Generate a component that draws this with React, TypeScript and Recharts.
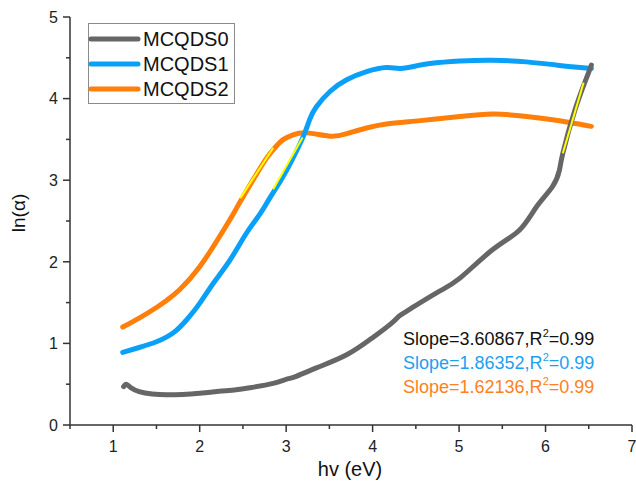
import React from "react";
import { LineChart, Line, XAxis, YAxis, Customized } from "recharts";

// Absorption edge curves: ln(alpha) versus photon energy hv (eV)
const mcqds0X = [1.12, 1.15, 1.2, 1.3, 1.45, 1.62, 1.8, 2.0, 2.2, 2.4, 2.6, 2.85, 3.0, 3.1, 3.35, 3.7, 4.0, 4.2, 4.3, 4.4, 4.74, 5.01, 5.39, 5.7, 5.9, 6.08, 6.16, 6.2, 6.34, 6.48, 6.53];
const mcqds0Y = [0.47, 0.5, 0.46, 0.41, 0.38, 0.37, 0.375, 0.39, 0.41, 0.43, 0.46, 0.51, 0.56, 0.59, 0.7, 0.86, 1.07, 1.23, 1.33, 1.4, 1.62, 1.8, 2.15, 2.39, 2.68, 2.92, 3.12, 3.33, 3.86, 4.27, 4.41];

const mcqds1X = [1.11, 1.3, 1.5, 1.62, 1.72, 1.85, 2.0, 2.16, 2.35, 2.54, 2.7, 2.81, 2.94, 3.06, 3.2, 3.27, 3.35, 3.51, 3.7, 3.93, 4.16, 4.32, 4.5, 4.66, 5.01, 5.39, 5.78, 6.14, 6.53];
const mcqds1Y = [0.89, 0.95, 1.02, 1.08, 1.15, 1.29, 1.49, 1.74, 2.02, 2.35, 2.59, 2.78, 3.0, 3.23, 3.54, 3.74, 3.9, 4.09, 4.23, 4.33, 4.38, 4.37, 4.4, 4.43, 4.46, 4.47, 4.45, 4.41, 4.37];

const mcqds2X = [1.11, 1.3, 1.5, 1.62, 1.77, 2.0, 2.23, 2.39, 2.47, 2.66, 2.78, 2.88, 2.97, 3.08, 3.24, 3.51, 3.7, 3.93, 4.16, 4.55, 5.01, 5.39, 5.7, 6.08, 6.53];
const mcqds2Y = [1.2, 1.31, 1.44, 1.53, 1.66, 1.94, 2.31, 2.59, 2.74, 3.08, 3.28, 3.41, 3.5, 3.555, 3.58, 3.54, 3.57, 3.64, 3.69, 3.73, 3.78, 3.81, 3.79, 3.74, 3.66];

// Linear fits on each edge: [xStart, xEnd], yStart, slope
const fitRanges = [
  [6.2, 6.44],
  [2.85, 3.19],
  [2.47, 2.85],
];
const fitStartY = [3.33, 2.89, 2.78];
const fitSlopes = [3.60867, 1.86352, 1.62136];
const fitR2 = [0.99, 0.99, 0.99];

const seriesNames = ["MCQDS0", "MCQDS1", "MCQDS2"];
const seriesColors = ["#666666", "#0aa0f8", "#ff7f0a"];
const labelColors = ["#111111", "#1ea0f0", "#ff7f24"];

const xTicks = [0.5, 1, 1.5, 2, 2.5, 3, 3.5, 4, 4.5, 5, 5.5, 6, 6.5, 7];
const yTicks = [0, 0.5, 1, 1.5, 2, 2.5, 3, 3.5, 4, 4.5, 5];

const zip = (xs: number[], ys: number[]) => xs.map((x, i) => ({ x, y: ys[i] }));
const curves = [zip(mcqds0X, mcqds0Y), zip(mcqds1X, mcqds1Y), zip(mcqds2X, mcqds2Y)];
const fits = fitRanges.map(([a, b], i) => [
  { x: a, y: fitStartY[i] },
  { x: b, y: fitStartY[i] + (b - a) * fitSlopes[i] },
]);

const FONT = "'Liberation Sans', Arial, sans-serif";
const AXIS = "#333333";

const XTick = (props: any) => {
  const { x, y, payload } = props;
  const v = payload.value;
  const major = Number.isInteger(v);
  return (
    <g>
      <line x1={x} x2={x} y1={y} y2={y + (major ? 7 : 4)} stroke={AXIS} strokeWidth={1.5} />
      {major && (
        <text x={x} y={y + 27} textAnchor="middle" fontSize={16} fill="#222" fontFamily={FONT}>
          {v}
        </text>
      )}
    </g>
  );
};

const YTick = (props: any) => {
  const { x, y, payload } = props;
  const v = payload.value;
  const major = Number.isInteger(v);
  return (
    <g>
      <line x1={x - (major ? 7 : 4)} x2={x} y1={y} y2={y} stroke={AXIS} strokeWidth={1.5} />
      {major && (
        <text x={x - 12} y={y} dy="0.36em" textAnchor="end" fontSize={16} fill="#222" fontFamily={FONT}>
          {v}
        </text>
      )}
    </g>
  );
};

const Decorations = () => (
  <g fontFamily={FONT}>
    {/* legend box */}
    <rect x={88.5} y={23.5} width={146} height={80} fill="#fff" stroke="#8a8a8a" strokeWidth={1} />
    {seriesNames.map((name, i) => (
      <g key={name}>
        <line x1={91} x2={138} y1={39 + i * 25} y2={39 + i * 25} stroke={seriesColors[i]} strokeWidth={5} strokeLinecap="round" />
        <text x={143} y={39 + i * 25} dy="0.36em" fontSize={20} fill="#111">
          {name}
        </text>
      </g>
    ))}
    {/* fit annotations */}
    {fitSlopes.map((s, i) => (
      <text key={i} x={403} y={345 + i * 24} fontSize={18} fill={labelColors[i]}>
        {`Slope=${s},R`}
        <tspan fontSize={11} dy={-8}>2</tspan>
        <tspan dy={8}>{`=${fitR2[i].toFixed(2)}`}</tspan>
      </text>
    ))}
    {/* axis titles */}
    <text x={18} y={213} transform="rotate(-90 18 213)" textAnchor="middle" dy="0.36em" fontSize={19} fill="#111">
      ln(α)
    </text>
    <text x={350} y={476} textAnchor="middle" fontSize={20} fill="#111">
      hv (eV)
    </text>
  </g>
);

export default function App() {
  return (
    <div style={{ position: "absolute", left: 0, top: 0, width: 636, height: 488, background: "#fff" }}>
      <LineChart width={636} height={488} margin={{ top: 17, right: 4, bottom: 0, left: 0 }}>
        <XAxis
          dataKey="x"
          type="number"
          domain={[0.5, 7]}
          ticks={xTicks}
          interval={0}
          allowDataOverflow
          height={63}
          tickSize={0}
          tickMargin={0}
          tickLine={false}
          tick={<XTick />}
          axisLine={{ stroke: AXIS, strokeWidth: 1.5 }}
        />
        <XAxis
          xAxisId="top"
          orientation="top"
          dataKey="x"
          type="number"
          domain={[0.5, 7]}
          allowDataOverflow
          height={0}
          tick={false}
          tickLine={false}
          axisLine={{ stroke: AXIS, strokeWidth: 1.5 }}
        />
        <YAxis
          type="number"
          domain={[0, 5]}
          ticks={yTicks}
          interval={0}
          allowDataOverflow
          width={70}
          tickSize={0}
          tickMargin={0}
          tickLine={false}
          tick={<YTick />}
          axisLine={{ stroke: AXIS, strokeWidth: 1.5 }}
        />
        <YAxis
          yAxisId="right"
          orientation="right"
          type="number"
          domain={[0, 5]}
          allowDataOverflow
          width={0}
          tick={false}
          tickLine={false}
          axisLine={{ stroke: AXIS, strokeWidth: 1.5 }}
        />
        {[2, 1, 0].map((i) => (
          <Line
            key={seriesNames[i]}
            data={curves[i]}
            dataKey="y"
            type="natural"
            stroke={seriesColors[i]}
            strokeWidth={5}
            strokeLinecap="round"
            strokeLinejoin="round"
            dot={false}
            activeDot={false}
            isAnimationActive={false}
          />
        ))}
        {fits.map((f, i) => (
          <Line
            key={`fit-${i}`}
            data={f}
            dataKey="y"
            type="linear"
            stroke="#ffff00"
            strokeWidth={2}
            dot={false}
            activeDot={false}
            isAnimationActive={false}
          />
        ))}
        <Customized component={Decorations} />
      </LineChart>
    </div>
  );
}
